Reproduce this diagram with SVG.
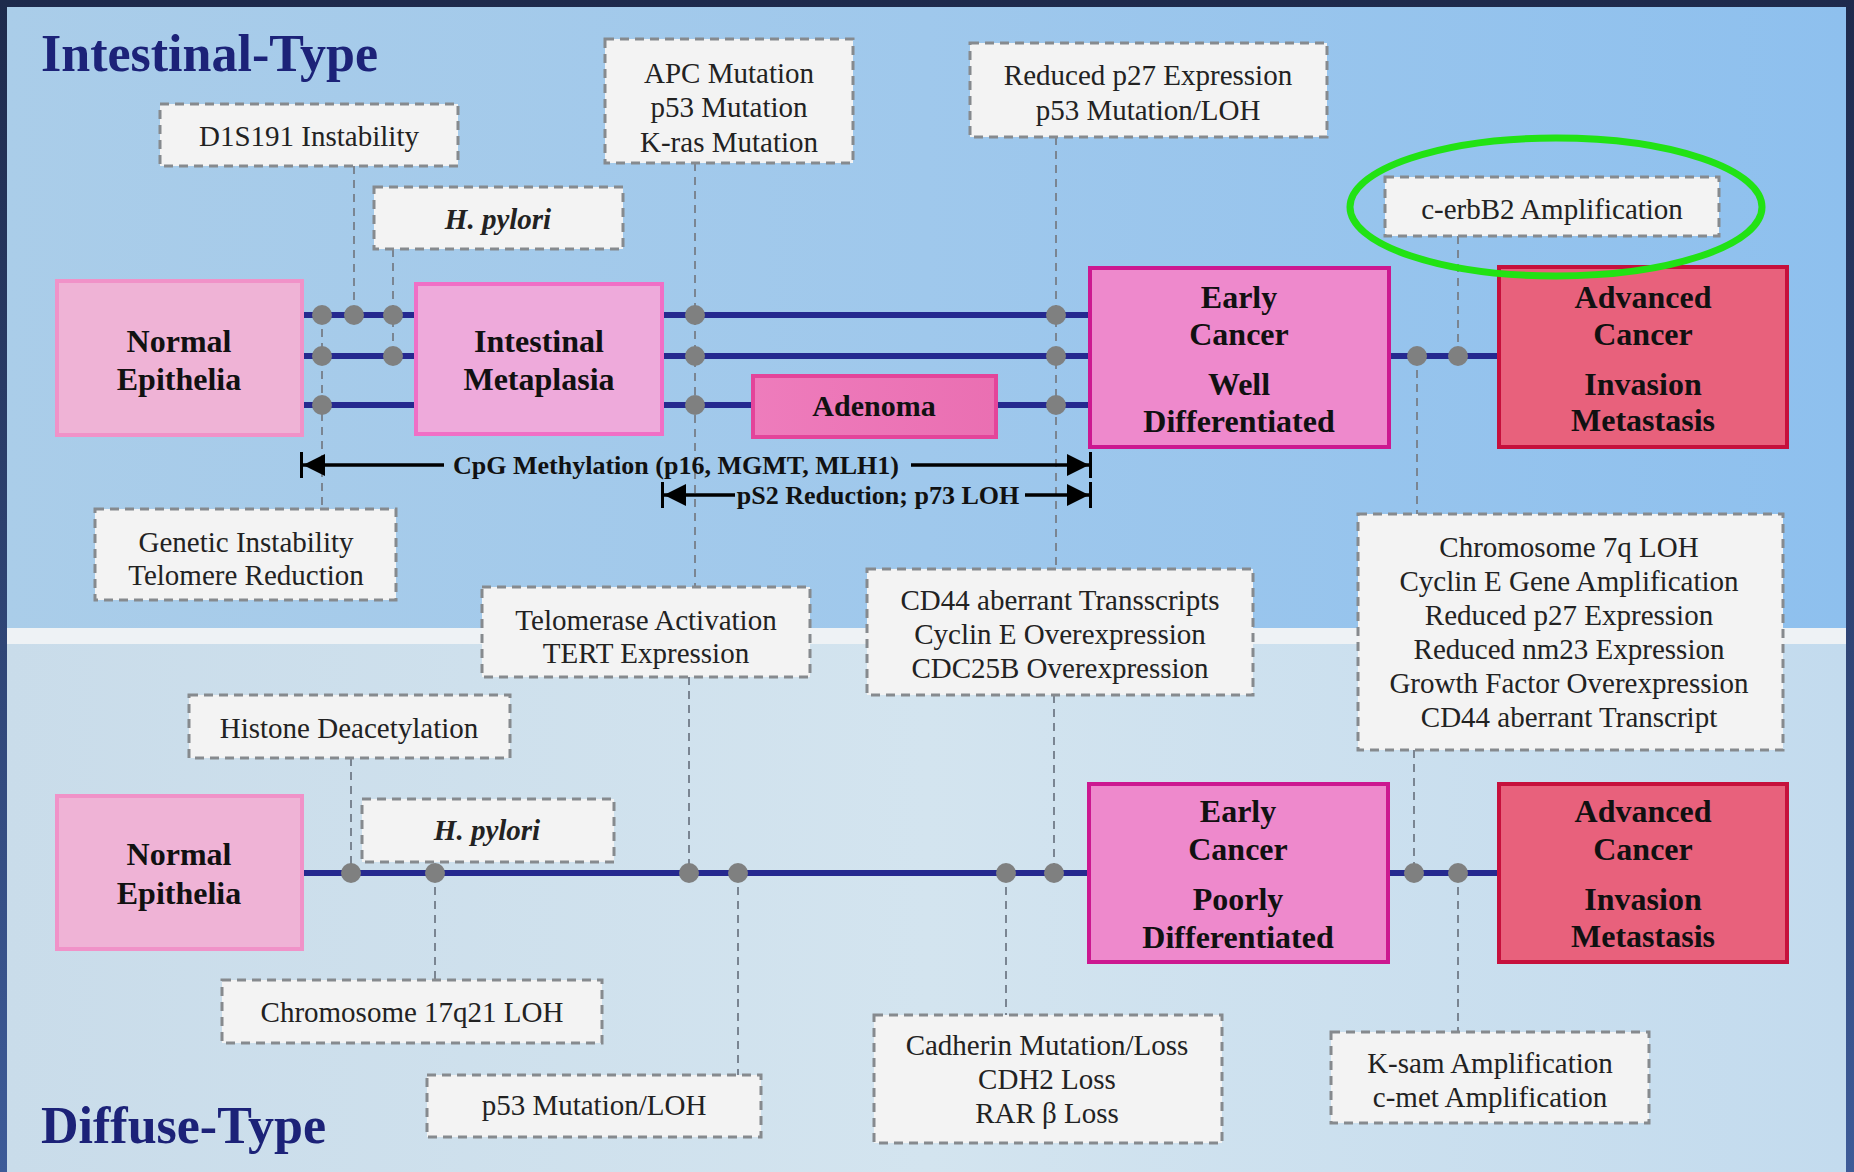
<svg xmlns="http://www.w3.org/2000/svg" width="1854" height="1172" viewBox="0 0 1854 1172">
<defs>
<linearGradient id="gTop" x1="0" y1="0" x2="1" y2="0">
<stop offset="0" stop-color="#aacde9"/><stop offset="0.5" stop-color="#9fc8ec"/><stop offset="1" stop-color="#8ec0ee"/>
</linearGradient>
<linearGradient id="gBot" x1="0" y1="0" x2="1" y2="0">
<stop offset="0" stop-color="#c9dcea"/><stop offset="0.5" stop-color="#d3e4ef"/><stop offset="1" stop-color="#c3dbee"/>
</linearGradient>
<linearGradient id="gFrame" x1="0" y1="0" x2="0" y2="1">
<stop offset="0" stop-color="#1e2a4c"/><stop offset="1" stop-color="#3d5b98"/>
</linearGradient>
<linearGradient id="gAden" x1="0" y1="0" x2="1" y2="0">
<stop offset="0" stop-color="#ee7cbc"/><stop offset="1" stop-color="#ea6fb2"/>
</linearGradient>
<marker id="arr" markerUnits="userSpaceOnUse" viewBox="-24 -14 28 28" refX="0" refY="0" markerWidth="28" markerHeight="28" orient="auto">
<path d="M-22,-11 L0,0 L-22,11 Z" fill="#000"/>
<rect x="0" y="-13" width="3" height="26" fill="#000"/>
</marker>
<style>
.title{font-family:"Liberation Serif",serif;font-weight:bold;font-size:52px;fill:#1c2278}
.node rect.n1{fill:#efb3d6;stroke:#f092c8;stroke-width:4}
.node rect.n2{fill:#eeaadb;stroke:#f06fc6;stroke-width:4}
.node rect.n3{fill:url(#gAden);stroke:#e4449a;stroke-width:4}
.node rect.n4{fill:#ee89cc;stroke:#cc1890;stroke-width:4}
.node rect.n5{fill:#e8617c;stroke:#c6103c;stroke-width:4}
.node text.b{font-family:"Liberation Serif",serif;font-weight:bold;font-size:32px;fill:#111;text-anchor:middle}
.note rect{fill:#f3f3f3;stroke:#868a8e;stroke-width:3;stroke-dasharray:9 6}
.note text{font-family:"Liberation Serif",serif;font-size:29px;fill:#222;text-anchor:middle}
.note text.i{font-weight:bold;font-style:italic}
.line{stroke:#25298f;stroke-width:6;fill:none}
.dash{stroke:#7a8592;stroke-width:2;stroke-dasharray:8 6;fill:none}
.dot{fill:#7f8080}
.arrow{stroke:#000;stroke-width:3.5;fill:none}
.atext{font-family:"Liberation Serif",serif;font-weight:bold;font-size:26px;fill:#111;text-anchor:middle}
</style>
</defs>

<!-- background -->
<rect x="0" y="0" width="1854" height="1172" fill="url(#gFrame)"/>
<rect x="7" y="7" width="1839" height="621" fill="url(#gTop)"/>
<rect x="7" y="628" width="1839" height="16" fill="#eef2f5"/>
<rect x="7" y="644" width="1839" height="528" fill="url(#gBot)"/>

<text class="title" x="41" y="71">Intestinal-Type</text>
<text class="title" x="41" y="1143">Diffuse-Type</text>

<g id="connectors">
<!-- main pathway lines (upper) -->
<path class="line" d="M302,315 H1090"/>
<path class="line" d="M302,356 H1499"/>
<path class="line" d="M302,405 H1090"/>
<!-- main pathway line (lower) -->
<path class="line" d="M302,873 H1499"/>
<!-- dashed connectors upper -->
<path class="dash" d="M354,166 V315"/>
<path class="dash" d="M393,249 V356"/>
<path class="dash" d="M322,315 V509"/>
<path class="dash" d="M695,163 V587"/>
<path class="dash" d="M1056,137 V569"/>
<path class="dash" d="M1458,236 V356"/>
<path class="dash" d="M1417,356 V514"/>
<!-- dashed connectors lower -->
<path class="dash" d="M351,758 V873"/>
<path class="dash" d="M435,873 V980"/>
<path class="dash" d="M689,677 V873"/>
<path class="dash" d="M738,873 V1075"/>
<path class="dash" d="M1006,873 V1015"/>
<path class="dash" d="M1054,695 V873"/>
<path class="dash" d="M1414,750 V873"/>
<path class="dash" d="M1458,873 V1032"/>
<!-- dots upper -->
<circle class="dot" cx="322" cy="315" r="10"/><circle class="dot" cx="354" cy="315" r="10"/><circle class="dot" cx="393" cy="315" r="10"/>
<circle class="dot" cx="322" cy="356" r="10"/><circle class="dot" cx="393" cy="356" r="10"/>
<circle class="dot" cx="322" cy="405" r="10"/>
<circle class="dot" cx="695" cy="315" r="10"/><circle class="dot" cx="695" cy="356" r="10"/><circle class="dot" cx="695" cy="405" r="10"/>
<circle class="dot" cx="1056" cy="315" r="10"/><circle class="dot" cx="1056" cy="356" r="10"/><circle class="dot" cx="1056" cy="405" r="10"/>
<circle class="dot" cx="1417" cy="356" r="10"/><circle class="dot" cx="1458" cy="356" r="10"/>
<!-- dots lower -->
<circle class="dot" cx="351" cy="873" r="10"/><circle class="dot" cx="435" cy="873" r="10"/>
<circle class="dot" cx="689" cy="873" r="10"/><circle class="dot" cx="738" cy="873" r="10"/>
<circle class="dot" cx="1006" cy="873" r="10"/><circle class="dot" cx="1054" cy="873" r="10"/>
<circle class="dot" cx="1414" cy="873" r="10"/><circle class="dot" cx="1458" cy="873" r="10"/>
<!-- range arrows -->
<path class="arrow" d="M444,465 H303" marker-end="url(#arr)"/>
<path class="arrow" d="M911,465 H1089" marker-end="url(#arr)"/>
<text class="atext" x="676" y="474">CpG Methylation (p16, MGMT, MLH1)</text>
<path class="arrow" d="M735,495 H664" marker-end="url(#arr)"/>
<path class="arrow" d="M1025,495 H1089" marker-end="url(#arr)"/>
<text class="atext" x="878" y="504">pS2 Reduction; p73 LOH</text>
</g>

<!-- stage nodes upper -->
<g id="normal-top" class="node"><rect class="n1" x="57" y="281" width="245" height="154"/>
<text class="b" x="179" y="352">Normal</text><text class="b" x="179" y="390">Epithelia</text></g>
<g id="metaplasia" class="node"><rect class="n2" x="416" y="284" width="246" height="150"/>
<text class="b" x="539" y="352">Intestinal</text><text class="b" x="539" y="390">Metaplasia</text></g>
<g id="adenoma" class="node"><rect class="n3" x="753" y="376" width="243" height="61"/>
<text class="b" x="874" y="416" style="font-size:30px">Adenoma</text></g>
<g id="early-top" class="node"><rect class="n4" x="1090" y="268" width="299" height="179"/>
<text class="b" x="1239" y="308">Early</text><text class="b" x="1239" y="345">Cancer</text>
<text class="b" x="1239" y="395">Well</text><text class="b" x="1239" y="432">Differentiated</text></g>
<g id="advanced-top" class="node"><rect class="n5" x="1499" y="267" width="288" height="180"/>
<text class="b" x="1643" y="308">Advanced</text><text class="b" x="1643" y="345">Cancer</text>
<text class="b" x="1643" y="395">Invasion</text><text class="b" x="1643" y="431">Metastasis</text></g>

<!-- stage nodes lower -->
<g id="normal-bottom" class="node"><rect class="n1" x="57" y="796" width="245" height="153"/>
<text class="b" x="179" y="865">Normal</text><text class="b" x="179" y="904">Epithelia</text></g>
<g id="early-bottom" class="node"><rect class="n4" x="1089" y="784" width="299" height="178"/>
<text class="b" x="1238" y="822">Early</text><text class="b" x="1238" y="860">Cancer</text>
<text class="b" x="1238" y="910">Poorly</text><text class="b" x="1238" y="948">Differentiated</text></g>
<g id="advanced-bottom" class="node"><rect class="n5" x="1499" y="784" width="288" height="178"/>
<text class="b" x="1643" y="822">Advanced</text><text class="b" x="1643" y="860">Cancer</text>
<text class="b" x="1643" y="910">Invasion</text><text class="b" x="1643" y="947">Metastasis</text></g>

<!-- annotation notes upper -->
<g id="note-d1s191" class="note"><rect x="160" y="104" width="298" height="62"/><text x="309" y="146">D1S191 Instability</text></g>
<g id="note-hpylori-top" class="note"><rect x="374" y="187" width="249" height="62"/><text class="i" x="498" y="229">H. pylori</text></g>
<g id="note-apc" class="note"><rect x="605" y="39" width="248" height="124"/>
<text x="729" y="83">APC Mutation</text><text x="729" y="117">p53 Mutation</text><text x="729" y="152">K-ras Mutation</text></g>
<g id="note-p27" class="note"><rect x="970" y="43" width="357" height="94"/>
<text x="1148" y="85">Reduced p27 Expression</text><text x="1148" y="120">p53 Mutation/LOH</text></g>
<g id="note-cerbb2" class="note"><rect x="1385" y="177" width="334" height="59"/><text x="1552" y="219">c-erbB2 Amplification</text></g>
<g id="note-genetic" class="note"><rect x="95" y="509" width="301" height="91"/>
<text x="246" y="552">Genetic Instability</text><text x="246" y="585">Telomere Reduction</text></g>
<g id="note-telomerase" class="note"><rect x="482" y="587" width="328" height="90"/>
<text x="646" y="630">Telomerase Activation</text><text x="646" y="663">TERT Expression</text></g>
<g id="note-cd44" class="note"><rect x="867" y="569" width="386" height="126"/>
<text x="1060" y="610">CD44 aberrant Transscripts</text><text x="1060" y="644">Cyclin E Overexpression</text><text x="1060" y="678">CDC25B Overexpression</text></g>
<g id="note-chr7q" class="note"><rect x="1358" y="514" width="425" height="236"/>
<text x="1569" y="557">Chromosome 7q LOH</text><text x="1569" y="591">Cyclin E Gene Amplification</text>
<text x="1569" y="625">Reduced p27 Expression</text><text x="1569" y="659">Reduced nm23 Expression</text>
<text x="1569" y="693">Growth Factor Overexpression</text><text x="1569" y="727">CD44 aberrant Transcript</text></g>

<!-- annotation notes lower -->
<g id="note-histone" class="note"><rect x="189" y="695" width="321" height="63"/><text x="349" y="738">Histone Deacetylation</text></g>
<g id="note-hpylori-bottom" class="note"><rect x="362" y="799" width="252" height="63"/><text class="i" x="487" y="840">H. pylori</text></g>
<g id="note-chr17q21" class="note"><rect x="222" y="980" width="380" height="63"/><text x="412" y="1022">Chromosome 17q21 LOH</text></g>
<g id="note-p53-bottom" class="note"><rect x="427" y="1075" width="334" height="62"/><text x="594" y="1115">p53 Mutation/LOH</text></g>
<g id="note-cadherin" class="note"><rect x="874" y="1015" width="348" height="128"/>
<text x="1047" y="1055">Cadherin Mutation/Loss</text><text x="1047" y="1089">CDH2 Loss</text><text x="1047" y="1123">RAR β Loss</text></g>
<g id="note-ksam" class="note"><rect x="1331" y="1032" width="318" height="91"/>
<text x="1490" y="1073">K-sam Amplification</text><text x="1490" y="1107">c-met Amplification</text></g>

<!-- highlight -->
<ellipse cx="1556" cy="207" rx="206" ry="69" fill="none" stroke="#22e214" stroke-width="7"/>
</svg>
